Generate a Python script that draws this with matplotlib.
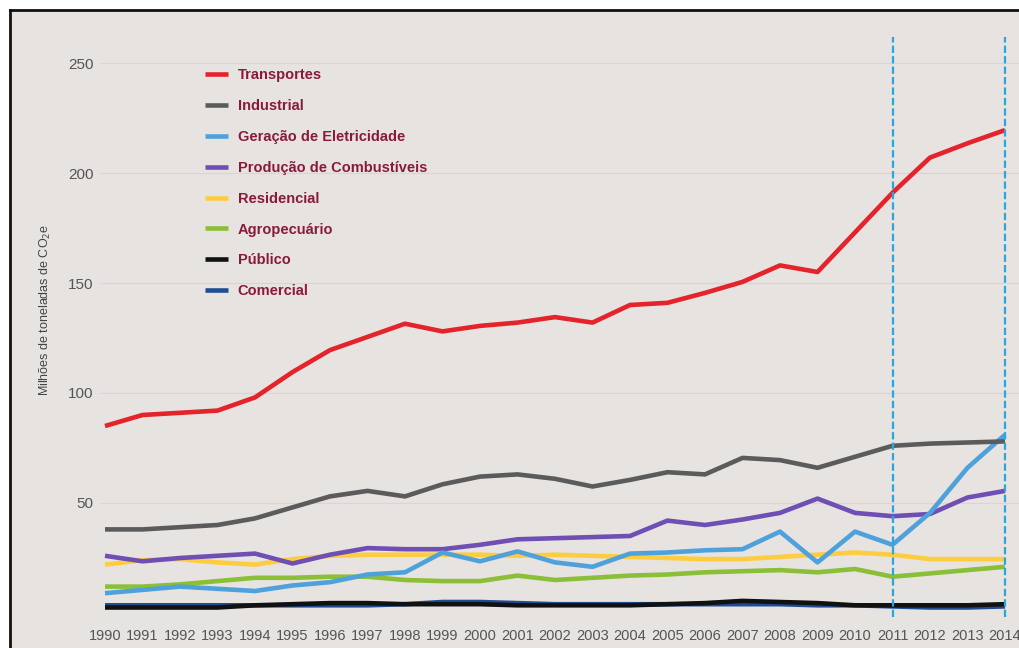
import numpy as np
import matplotlib.pyplot as plt
from matplotlib.patches import Rectangle
from matplotlib.lines import Line2D

plt.rcParams['font.family'] = ['Liberation Sans Narrow', 'Liberation Sans', 'DejaVu Sans']

anos = list(range(1990, 2015))

transportes = [85, 90, 91, 92, 98, 109.5, 119.5, 125.5, 131.5, 128, 130.5, 132, 134.5, 132,
               140, 141, 145.5, 150.5, 158, 155, 173, 191, 207, 213.5, 219.5]
industrial = [38, 38, 39, 40, 43, 48, 53, 55.5, 53, 58.5, 62, 63, 61, 57.5,
              60.5, 64, 63, 70.5, 69.5, 66, 71, 76, 77, 77.5, 78]
eletricidade = [9, 10.5, 12, 11, 10, 12.5, 14, 17.5, 18.5, 27.5, 23.5, 28, 23, 21,
                27, 27.5, 28.5, 29, 37, 23, 37, 31, 45.5, 66, 81]
combustiveis = [26, 23.5, 25, 26, 27, 22.5, 26.5, 29.5, 29, 29, 31, 33.5, 34, 34.5,
                35, 42, 40, 42.5, 45.5, 52, 45.5, 44, 45, 52.5, 55.5]
residencial = [22, 24, 24.5, 23, 22, 24.5, 26, 26.5, 26.5, 26.5, 26.5, 26, 26.5, 26,
               25.5, 25, 24.5, 24.5, 25.5, 26.5, 27.5, 26.5, 24.5, 24.5, 24.5]
agropecuario = [12, 12, 13, 14.5, 16, 16, 16.5, 16.5, 15, 14.5, 14.5, 17, 15, 16,
                17, 17.5, 18.5, 19, 19.5, 18.5, 20, 16.5, 18, 19.5, 21]
publico = [2.5, 2.5, 2.5, 2.5, 3.5, 4, 4.5, 4.5, 4, 4, 4, 3.5, 3.5, 3.5,
           3.5, 4, 4.5, 5.5, 5, 4.5, 3.5, 3.5, 3.5, 3.5, 4]
comercial = [3.5, 3.5, 3.5, 3.5, 3.5, 3.5, 3.5, 3.5, 4, 5, 5, 4.5, 4, 4,
             4, 4, 4, 4, 4, 3.5, 3.5, 3, 2.5, 2.5, 3]

series = [
    ('Transportes', transportes, '#e4232a'),
    ('Industrial', industrial, '#5b5b5b'),
    ('Geração de Eletricidade', eletricidade, '#4fa1dc'),
    ('Produção de Combustíveis', combustiveis, '#6f4fb3'),
    ('Residencial', residencial, '#fdcd3f'),
    ('Agropecuário', agropecuario, '#8cbf38'),
    ('Público', publico, '#111111'),
    ('Comercial', comercial, '#1f4d94'),
]
marcos = [2011, 2014]
yticks = [50, 100, 150, 200, 250]

W, H = 1020, 648
fig = plt.figure(figsize=(W / 100, H / 100), dpi=100, facecolor='white')

# fundo cinzento e moldura (topo e esquerda)
fig.patches.append(Rectangle((10 / W, 0), 1 - 10 / W, 1 - 10 / H, transform=fig.transFigure,
                             facecolor='#e6e3e1', edgecolor='none', zorder=-5))
fig.lines.append(Line2D([10 / W, 1], [1 - 10 / H, 1 - 10 / H], transform=fig.transFigure,
                        color='#111111', lw=2, zorder=-4))
fig.lines.append(Line2D([10 / W, 10 / W], [0, 1 - 10 / H], transform=fig.transFigure,
                        color='#111111', lw=2, zorder=-4))

ax = fig.add_axes([90 / W, (H - 617.4) / H, 930 / W, (617.4 - 36.6) / H])
ax.set_zorder(2)
ax.set_facecolor('none')
ax.set_xlim(1989.6, 2014.4)
ax.set_ylim(-2, 262)
for s in ax.spines.values():
    s.set_visible(False)

ax.hlines(yticks, 1989.87, 2014.4, color='#efcfb9', lw=0.8, zorder=1)

handles = []
for nome, vals, cor in reversed(series):
    ln, = ax.plot(anos, vals, color=cor, lw=3.3, solid_capstyle='butt', zorder=3, label=nome)
    handles.append(ln)
handles = handles[::-1]

for m in marcos:
    ax.axvline(m, color='#2aa6df', lw=1.6, ls=(0, (3.3, 1.4)), zorder=4)

ax.set_xticks(anos)
ax.set_xticklabels([str(a) for a in anos], fontsize=10.5, color='#555555')
ax.set_yticks(yticks)
ax.set_yticklabels([str(v) for v in yticks], fontsize=11, color='#555555')
ax.tick_params(axis='both', length=0)
ax.tick_params(axis='x', pad=8)
ax.tick_params(axis='y', pad=-2.5)

fig.text(45 / W, 1 - 310 / H, 'Milhões de toneladas de CO$_2$e', rotation=90,
         ha='center', va='center', fontsize=9, color='#444444')

leg = ax.legend(handles=handles, loc='upper left', bbox_to_anchor=(205 / W, 1 - 68 / H),
                bbox_transform=fig.transFigure, frameon=False, fontsize=10.5,
                handlelength=1.6, handletextpad=0.65, labelspacing=1.16,
                borderpad=0, borderaxespad=0)
for t in leg.get_texts():
    t.set_color('#8a1a3c')
    t.set_fontweight('bold')

fig.savefig('out.png', dpi=100, facecolor='white')
